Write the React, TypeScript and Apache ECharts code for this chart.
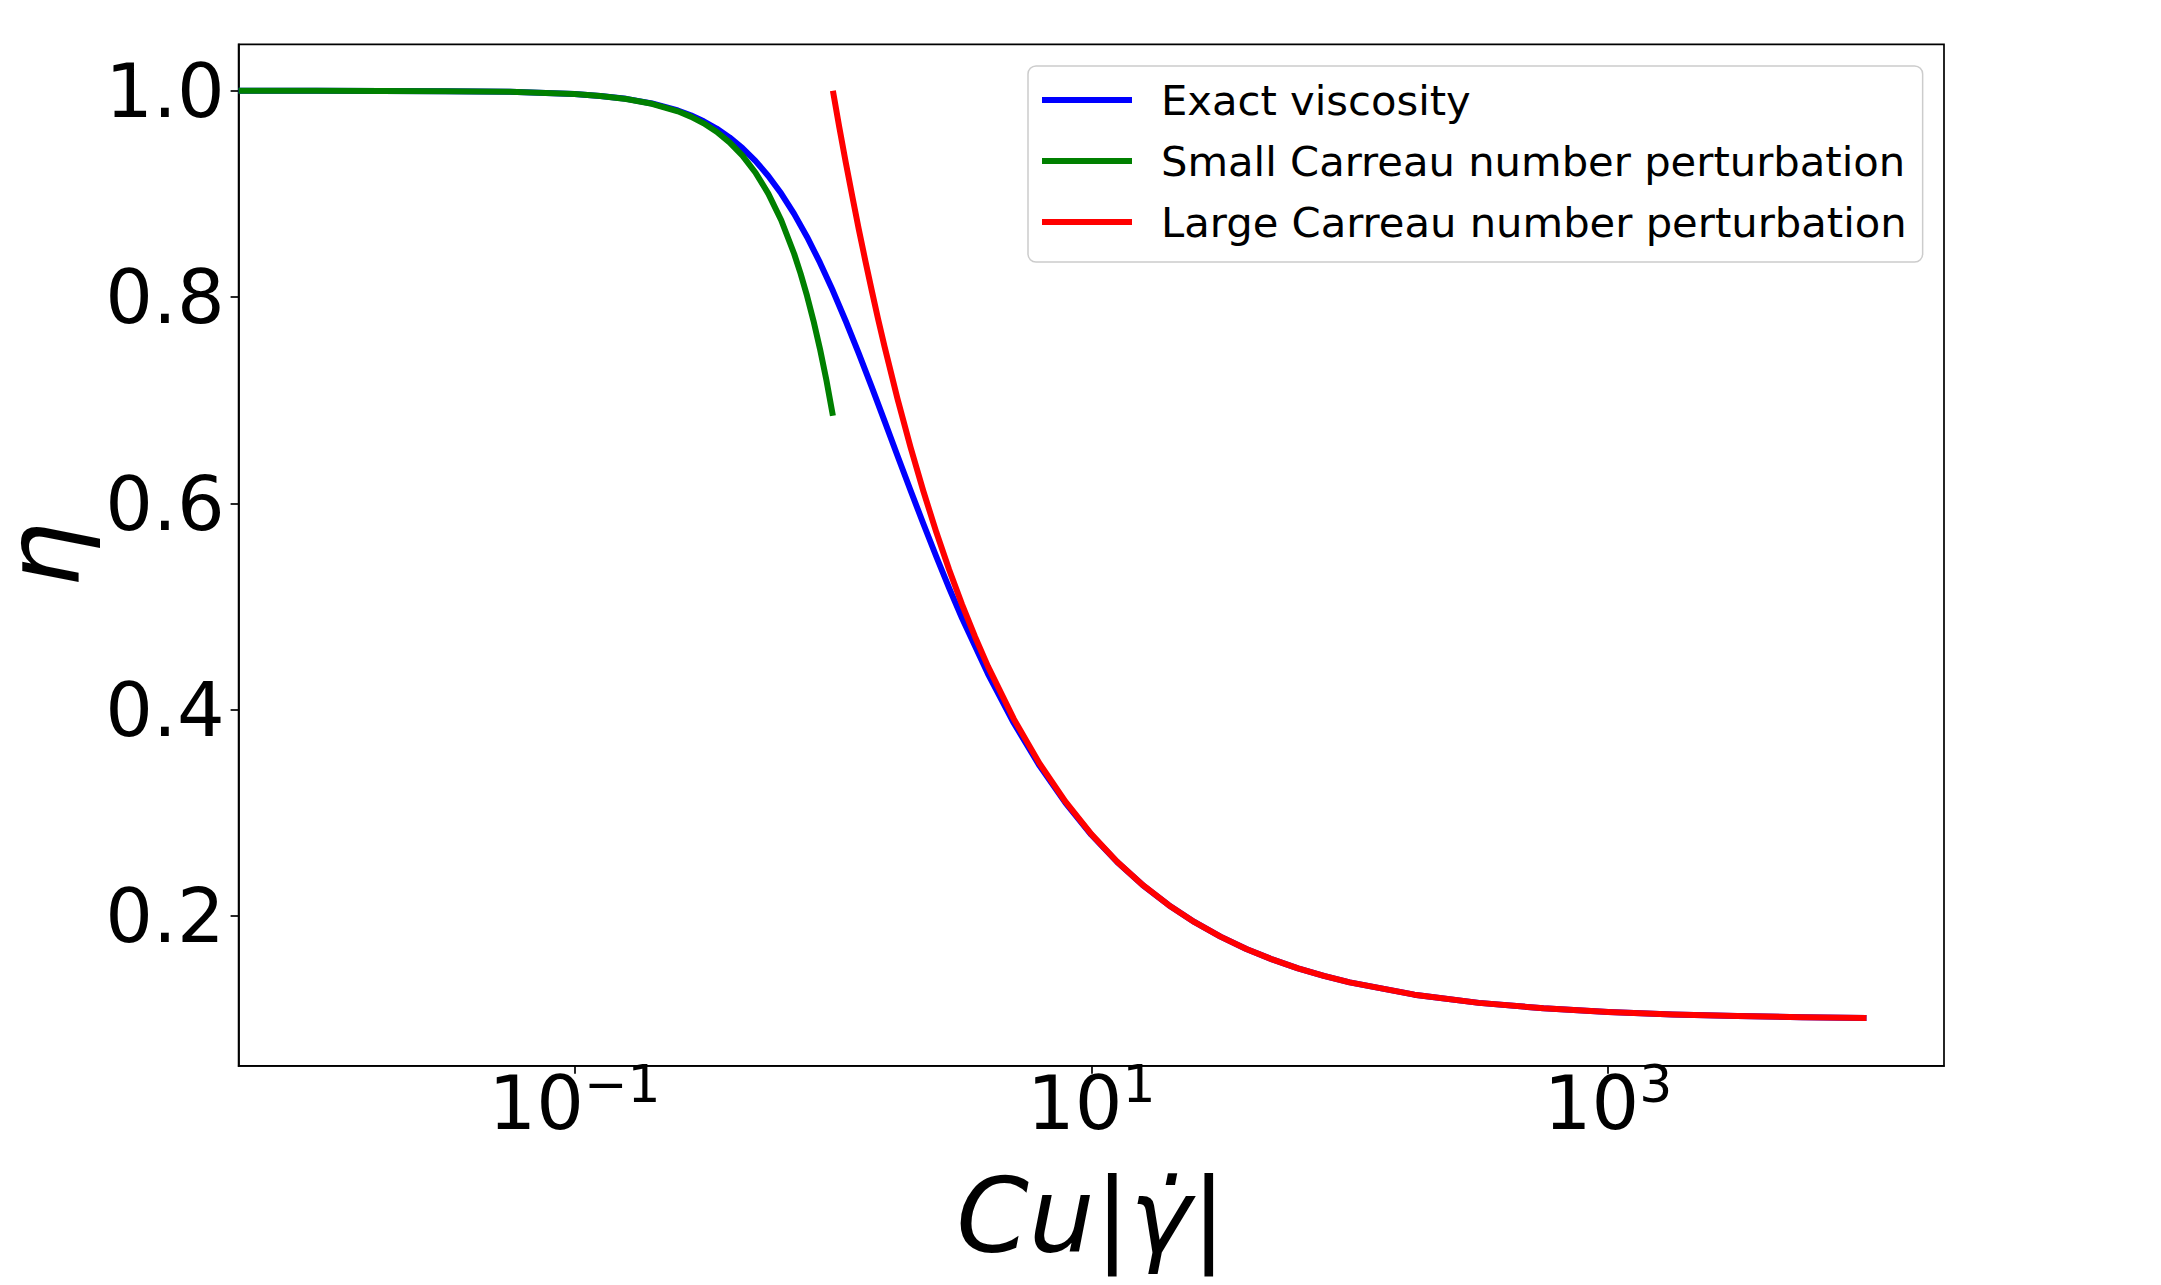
import React, { useEffect, useRef } from 'react';
import * as echarts from 'echarts';

// ---- data (x = Cu|γ̇|, y = η) ----
const blueX = [0.005012, 0.01, 0.01778, 0.03162, 0.05623, 0.1, 0.1259, 0.1585, 0.1995, 0.2512, 0.2818, 0.3162, 0.3548, 0.3981, 0.4467, 0.5012, 0.5623, 0.631, 0.7079, 0.7943, 0.8913, 1, 1.122, 1.259, 1.413, 1.585, 1.778, 1.995, 2.239, 2.512, 2.818, 3.162, 3.981, 5.012, 6.31, 7.943, 10, 12.59, 15.85, 19.95, 25.12, 31.62, 39.81, 50.12, 63.1, 79.43, 100, 177.8, 316.2, 562.3, 1000, 1778, 3162, 5623, 10000];
const blueY = [0.99999, 0.99997, 0.9999, 0.99969, 0.99901, 0.99687, 0.99506, 0.99222, 0.98779, 0.98093, 0.97624, 0.97047, 0.96341, 0.95483, 0.94448, 0.93211, 0.91748, 0.90039, 0.88071, 0.85838, 0.83346, 0.80613, 0.77667, 0.74549, 0.71304, 0.67983, 0.64636, 0.61307, 0.58038, 0.54862, 0.51804, 0.48883, 0.43492, 0.38728, 0.34574, 0.30982, 0.27895, 0.25251, 0.22991, 0.21063, 0.19419, 0.18018, 0.16826, 0.1581, 0.14945, 0.14209, 0.13583, 0.12395, 0.116, 0.1107, 0.10715, 0.10478, 0.10319, 0.10213, 0.10143];

const greenX = [0.005012, 0.01, 0.01778, 0.03162, 0.05623, 0.1, 0.1259, 0.1585, 0.1995, 0.2512, 0.2818, 0.3162, 0.3548, 0.3981, 0.4467, 0.5012, 0.5623, 0.631, 0.7079, 0.7499, 0.7943, 0.8414, 0.8913, 0.9441, 1];
const greenY = [0.99999, 0.99997, 0.9999, 0.99969, 0.999, 0.99685, 0.99501, 0.99209, 0.98746, 0.98012, 0.97498, 0.9685, 0.96034, 0.95008, 0.93715, 0.92088, 0.90039, 0.8746, 0.84213, 0.82286, 0.80125, 0.777, 0.74979, 0.71926, 0.685];

const redX = [1, 1.059, 1.122, 1.189, 1.259, 1.334, 1.413, 1.496, 1.585, 1.778, 1.995, 2.239, 2.512, 2.818, 3.162, 3.548, 3.981, 5.012, 6.31, 7.943, 10, 12.59, 15.85, 19.95, 25.12, 31.62, 39.81, 50.12, 63.1, 79.43, 100, 177.8, 316.2, 562.3, 1000, 1778, 3162, 5623, 10000];
const redY = [1.0, 0.96446, 0.93031, 0.89752, 0.86602, 0.83577, 0.80671, 0.7788, 0.75199, 0.70151, 0.65493, 0.61197, 0.57233, 0.53576, 0.50202, 0.47089, 0.44217, 0.39123, 0.34788, 0.31098, 0.27957, 0.25284, 0.23009, 0.21072, 0.19424, 0.18021, 0.16827, 0.15811, 0.14946, 0.1421, 0.13583, 0.12395, 0.116, 0.1107, 0.10715, 0.10478, 0.10319, 0.10213, 0.10143];

const seriesNames = ['Exact viscosity', 'Small Carreau number perturbation', 'Large Carreau number perturbation'];
const seriesColors = ['#0000ff', '#008000', '#ff0000'];

const xTickValues = [0.1, 10, 1000];
const xTickExponents = ['\u22121', '1', '3'];
const yTickValues = [0.2, 0.4, 0.6, 0.8, 1.0];
const yTickLabels = ['0.2', '0.4', '0.6', '0.8', '1.0'];

const xMin = 0.005012;
const xMax = 19953;
const yMin = 0.055;
const yMax = 1.045;

const FONT = 'DejaVu Sans';

function pairs(xs: number[], ys: number[]) {
  return xs.map((x, i) => [x, ys[i]]);
}

export default function App() {
  const ref = useRef<HTMLDivElement>(null);

  useEffect(() => {
    document.body.style.margin = '0';
    if (!ref.current) return;
    const chart = echarts.init(ref.current, undefined, { renderer: 'svg' });

    const seriesData = [pairs(blueX, blueY), pairs(greenX, greenY), pairs(redX, redY)];

    chart.setOption({
      animation: false,
      backgroundColor: '#ffffff',
      grid: {
        left: 238.6,
        right: 217,
        top: 44.4,
        bottom: 219.2,
        show: true,
        borderColor: '#000000',
        borderWidth: 1.7,
        backgroundColor: 'transparent',
        containLabel: false,
        outerBoundsMode: 'none',
      },
      legend: {
        orient: 'vertical',
        left: 1028,
        top: 66,
        padding: [13, 16, 19, 14],
        itemGap: 19,
        itemWidth: 90,
        itemHeight: 6,
        icon: 'rect',
        backgroundColor: '#ffffff',
        borderColor: '#cccccc',
        borderWidth: 1.5,
        borderRadius: 8,
        data: seriesNames.map((n) => ({ name: n, icon: 'rect' })),
        textStyle: {
          fontFamily: FONT,
          fontSize: 41.7,
          lineHeight: 42,
          color: '#000000',
          padding: [0, 0, 0, 24],
        },
        selectedMode: false,
      },
      xAxis: {
        type: 'log',
        logBase: 10,
        min: xMin,
        max: xMax,
        name: '{i|Cu}{n||}{i|\u03b3\u0307}{n||}',
        nameLocation: 'middle',
        nameGap: 98,
        nameTextStyle: {
          fontFamily: FONT,
          fontSize: 104,
          lineHeight: 104,
          color: '#000000',
          rich: {
            i: { fontFamily: FONT, fontSize: 104, lineHeight: 104, fontStyle: 'italic', color: '#000' },
            n: { fontFamily: FONT, fontSize: 104, lineHeight: 104, color: '#000' },
          },
        },
        axisLine: { show: true, onZero: false, lineStyle: { color: '#000', width: 1.7 } },
        axisTick: { show: true, inside: false, length: 8, customValues: xTickValues, lineStyle: { color: '#000', width: 1.7 } },
        minorTick: { show: false },
        splitLine: { show: false },
        axisLabel: {
          customValues: xTickValues,
          margin: 0,
          formatter: (v: number) => {
            const i = xTickValues.findIndex((t) => Math.abs(t - v) / t < 1e-6);
            return i < 0 ? '' : `{b|10}{s|${xTickExponents[i]}}`;
          },
          rich: {
            b: { fontFamily: FONT, fontSize: 75, lineHeight: 75, verticalAlign: 'bottom', color: '#000' },
            s: { fontFamily: FONT, fontSize: 52, lineHeight: 52, verticalAlign: 'bottom', padding: [0, 0, 31, 0], color: '#000' },
          },
        },
      },
      yAxis: {
        type: 'value',
        min: yMin,
        max: yMax,
        name: '\u03b7',
        nameLocation: 'middle',
        nameRotate: 90,
        nameGap: 160,
        nameTextStyle: {
          fontFamily: FONT,
          fontSize: 104,
          lineHeight: 72,
          fontStyle: 'italic',
          color: '#000000',
        },
        axisLine: { show: true, onZero: false, lineStyle: { color: '#000', width: 1.7 } },
        axisTick: { show: true, inside: false, length: 8, customValues: yTickValues, lineStyle: { color: '#000', width: 1.7 } },
        splitLine: { show: false },
        axisLabel: {
          customValues: yTickValues,
          margin: 14,
          fontFamily: FONT,
          fontSize: 75,
          color: '#000',
          formatter: (v: number) => {
            const i = yTickValues.findIndex((t) => Math.abs(t - v) < 1e-6);
            return i < 0 ? '' : yTickLabels[i];
          },
        },
      },
      series: seriesNames.map((name, k) => ({
        name,
        type: 'line',
        data: seriesData[k],
        showSymbol: false,
        symbol: 'none',
        smooth: false,
        silent: true,
        color: seriesColors[k],
        lineStyle: { color: seriesColors[k], width: 6, join: 'round', cap: 'butt' },
        z: 2 + k,
      })),
    });

    return () => {
      chart.dispose();
    };
  }, []);

  return <div ref={ref} style={{ width: 2161, height: 1285 }} />;
}
